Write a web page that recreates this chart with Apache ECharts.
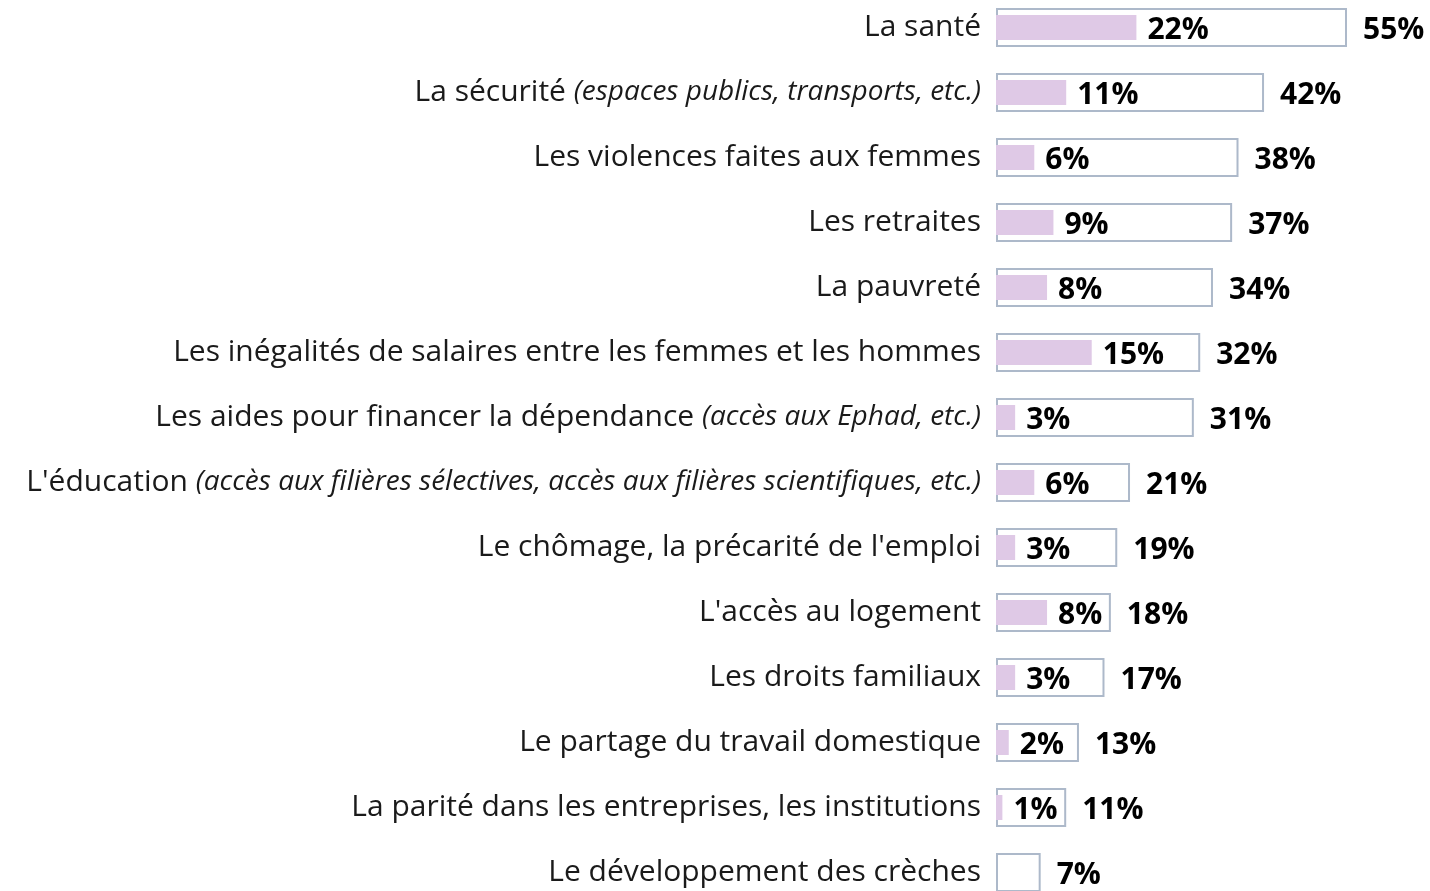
<!DOCTYPE html>
<html>
<head>
<meta charset="utf-8">
<script src="https://cdn.jsdelivr.net/npm/echarts@6/dist/echarts.min.js"></script>
<style>
    html, body { margin: 0; padding: 0; background: #fff; overflow: hidden; }
    /* le graphique déborde un peu en haut et en bas, comme l'original */
    #chart { position: absolute; left: 0; top: -5px; width: 1430px; height: 910px; }
</style>
</head>
<body>
<div id="chart"></div>
<script>
// libellés (partie normale + précision en italique)
const themes = [
    'La santé',
    'La sécurité',
    'Les violences faites aux femmes',
    'Les retraites',
    'La pauvreté',
    'Les inégalités de salaires entre les femmes et les hommes',
    'Les aides pour financer la dépendance',
    "L'éducation",
    "Le chômage, la précarité de l'emploi",
    "L'accès au logement",
    'Les droits familiaux',
    'Le partage du travail domestique',
    'La parité dans les entreprises, les institutions',
    'Le développement des crèches'
]
const precisions = [
    '',
    '(espaces publics, transports, etc.)',
    '',
    '',
    '',
    '',
    '(accès aux Ephad, etc.)',
    '(accès aux filières sélectives, accès aux filières scientifiques, etc.)',
    '',
    '',
    '',
    '',
    '',
    ''
]
// total des citations
const totalValues = [55, 42, 38, 37, 34, 32, 31, 21, 19, 18, 17, 13, 11, 7]
// cité en premier
const firstValues = [22, 11, 6, 9, 8, 15, 3, 6, 3, 8, 3, 2, 1, 0]

const chart = echarts.init(document.getElementById('chart'))

const labelFont = 'Open Sans'
const catLabels = themes.map((t, i) => precisions[i] ? t + ' {i|' + precisions[i] + '}' : t)

chart.setOption({
    animation: false,
    grid: { left: 996, right: 83, top: 0, bottom: 0, containLabel: false },
    xAxis: {
        type: 'value', min: 0, max: 55,
        show: false
    },
    yAxis: [
        {
            type: 'category',
            inverse: true,
            data: catLabels,
            axisLine: { show: false },
            axisTick: { show: false },
            axisLabel: {
                margin: 15,
                color: '#1a1a1a',
                fontFamily: labelFont,
                fontSize: 30,
                rich: {
                    i: { fontStyle: 'italic', fontSize: 28, color: '#1a1a1a', fontFamily: labelFont }
                }
            }
        },
        {
            // axe jumeau pour centrer la barre intérieure
            type: 'category',
            inverse: true,
            data: catLabels,
            show: false
        }
    ],
    series: [
        {
            name: 'Total',
            type: 'bar',
            yAxisIndex: 0,
            data: totalValues,
            barWidth: 39,
            z: 1,
            itemStyle: { color: '#ffffff', borderColor: '#adb9ca', borderWidth: 2 },
            label: {
                show: true, position: 'right', distance: 16, offset: [0, 3],
                formatter: '{c}%',
                color: '#000', fontWeight: 'bold', fontSize: 30, fontFamily: labelFont
            }
        },
        {
            name: 'En premier',
            type: 'bar',
            yAxisIndex: 1,
            data: firstValues,
            barWidth: 25,
            z: 2,
            itemStyle: { color: '#dfc9e6' },
            label: {
                show: true, position: 'right', distance: 11, offset: [0, 3],
                formatter: p => p.value ? p.value + '%' : '',
                color: '#000', fontWeight: 'bold', fontSize: 30, fontFamily: labelFont
            }
        }
    ]
})
</script>
</body>
</html>
